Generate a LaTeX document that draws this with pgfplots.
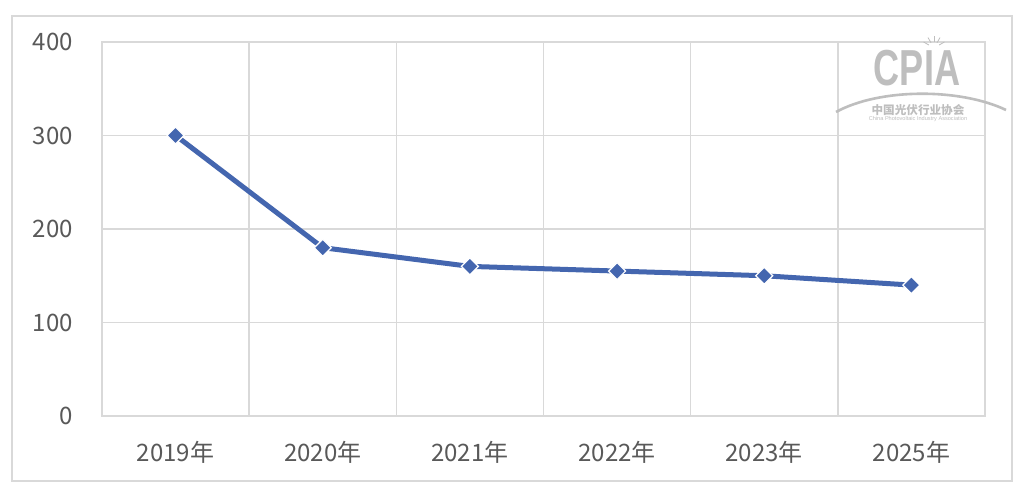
\documentclass[border=0pt]{standalone}
\usepackage{pgfplots}
\pgfplotsset{compat=1.18}
\usetikzlibrary{calc}
\usepackage{fontspec}
\setmainfont{Noto Sans CJK SC}
\newfontfamily\logofont{Liberation Sans}
\definecolor{lineblue}{RGB}{68,102,175}
\definecolor{gridgray}{RGB}{217,217,217}
\definecolor{labelgray}{RGB}{89,89,89}
\definecolor{logogray}{RGB}{190,190,190}
\begin{document}
\begin{tikzpicture}
\useasboundingbox (0,0) rectangle (517pt,245pt);
\fill[white] (0,0) rectangle (517pt,245pt);
\draw[gridgray, line width=1pt] (6pt,4.5pt) rectangle (506pt,237pt);
\begin{axis}[
  at={(51pt,37pt)}, anchor=south west,
  scale only axis, width=441.5pt, height=187pt,
  xmin=0, xmax=6, ymin=0, ymax=400,
  xtick={0.5,1.5,2.5,3.5,4.5,5.5},
  xticklabels={2019年,2020年,2021年,2022年,2023年,2025年},
  minor xtick={1,2,3,4,5},
  xminorgrids=true,
  ytick={0,100,200,300,400},
  ymajorgrids=true,
  major tick length=0pt, minor tick length=0pt,
  axis line style={gridgray, line width=0.75pt},
  grid style={gridgray, line width=0.75pt},
  minor grid style={gridgray, line width=0.75pt},
  tick label style={font=\fontsize{12}{14}\selectfont, text=labelgray},
  /pgf/number format/assume math mode=true,
  yticklabel style={xshift=-11pt},
  xticklabel style={yshift=-9pt},
  clip=false,
]
\addplot[lineblue, line width=2.5pt, mark=square*, mark size=3pt,
  mark options={fill=lineblue, draw=white, line width=0.6pt, rotate=45}]
  coordinates {(0.5,300) (1.5,180) (2.5,160) (3.5,155) (4.5,150) (5.5,140)};
\end{axis}
% CPIA logo watermark
\node[logogray, font=\logofont\bfseries\fontsize{22}{24}\selectfont, xscale=0.82, yscale=1.15] at (458.5pt,211pt) {CPIA};
\draw[logogray, line width=1.3pt] (418pt,189pt) .. controls (440pt,201pt) and (480pt,201pt) .. (503pt,190pt);
\node[logogray, font=\bfseries\fontsize{5.8}{6}\selectfont, inner sep=0pt] at (459pt,190pt) {中国光伏行业协会};
\node[logogray, font=\logofont\fontsize{2.8}{3}\selectfont, inner sep=0pt] at (459pt,185.5pt) {China Photovoltaic Industry Association};
\foreach \a in {30,60,90,120,150}
  \draw[logogray, line width=0.4pt] ($(467pt,221pt)+(\a:3pt)$) -- ($(467pt,221pt)+(\a:6pt)$);
\end{tikzpicture}
\end{document}
